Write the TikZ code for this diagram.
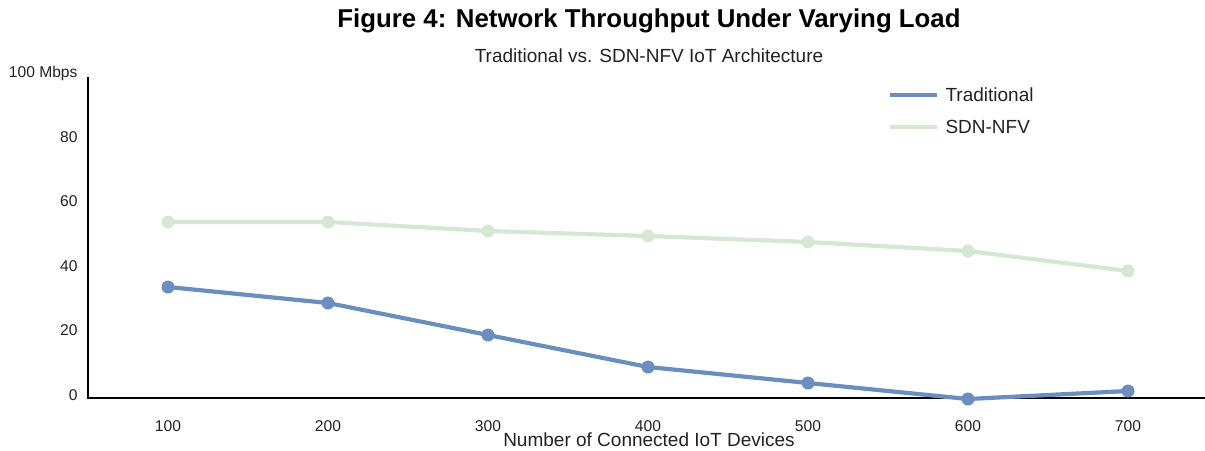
\documentclass[tikz,border=0pt]{standalone}
\usepackage{fontspec}
\setmainfont{Liberation Sans}
\definecolor{tradc}{HTML}{6C8EBF}
\definecolor{sdnc}{HTML}{D5E8D4}
\definecolor{txtc}{HTML}{222222}
\begin{document}
\begin{tikzpicture}[x=1pt,y=-1pt,
  tick/.style={text=txtc,font=\fontsize{15.6}{18}\selectfont},
  ytick/.style={tick,anchor=east},
  lbl/.style={text=txtc,font=\fontsize{19}{22}\selectfont},
  serie/.style={line width=4.2pt,line join=round},
  dot/.style={circle,inner sep=0pt,minimum size=13pt,fill=#1}]
\useasboundingbox (0,0) rectangle (1205,450);
\node[font=\bfseries\fontsize{25.8}{30}\selectfont,text=black] (title) at (649,21) {Figure 4: Network Throughput Under Varying Load};
\node[lbl] (sub) at (649,56) {Traditional vs. SDN-NFV IoT Architecture};
% axes
\coordinate (ytop) at (88,78);
\coordinate (orig) at (88,398);
\coordinate (xend) at (1205,398);
\draw[line width=2.4pt,line cap=rect] (ytop) -- (orig) -- (xend);
% y ticks
\node[ytick] (y0) at (81,395) {0};
\node[ytick] (y20) at (81,330) {20};
\node[ytick] (y40) at (81,266) {40};
\node[ytick] (y60) at (81,201) {60};
\node[ytick] (y80) at (81,137) {80};
\node[ytick] (y100) at (81,73) {100 Mbps};
% x ticks
\foreach \v/\x in {100/168,200/328,300/488,400/648,500/808,600/968,700/1128}
  \node[tick] (x\v) at (\x,426) {\v};
\node[lbl] (xlab) at (649,440) {Number of Connected IoT Devices};
% SDN-NFV
\foreach \n/\x/\y in {1/168/222,2/328/222,3/488/231,4/648/236,5/808/242,6/968/251,7/1128/271}
  \coordinate (s\n) at (\x,\y);
\draw[serie,sdnc] (s1)--(s2)--(s3)--(s4)--(s5)--(s6)--(s7);
\foreach \n in {1,...,7} \node[dot=sdnc] (sd\n) at (s\n) {};
% Traditional
\foreach \n/\x/\y in {1/168/287,2/328/303,3/488/335,4/648/367,5/808/383,6/968/399,7/1128/391}
  \coordinate (t\n) at (\x,\y);
\draw[serie,tradc] (t1)--(t2)--(t3)--(t4)--(t5)--(t6)--(t7);
\foreach \n in {1,...,7} \node[dot=tradc] (td\n) at (t\n) {};
% legend
\coordinate (l1a) at (890,95); \coordinate (l1b) at (937,95);
\coordinate (l2a) at (890,127); \coordinate (l2b) at (937,127);
\draw[serie,tradc] (l1a) -- (l1b);
\draw[serie,sdnc] (l2a) -- (l2b);
\node[lbl,anchor=west] (lt1) at (942,95) {Traditional};
\node[lbl,anchor=west] (lt2) at (942,127) {SDN-NFV};
\end{tikzpicture}
\end{document}
